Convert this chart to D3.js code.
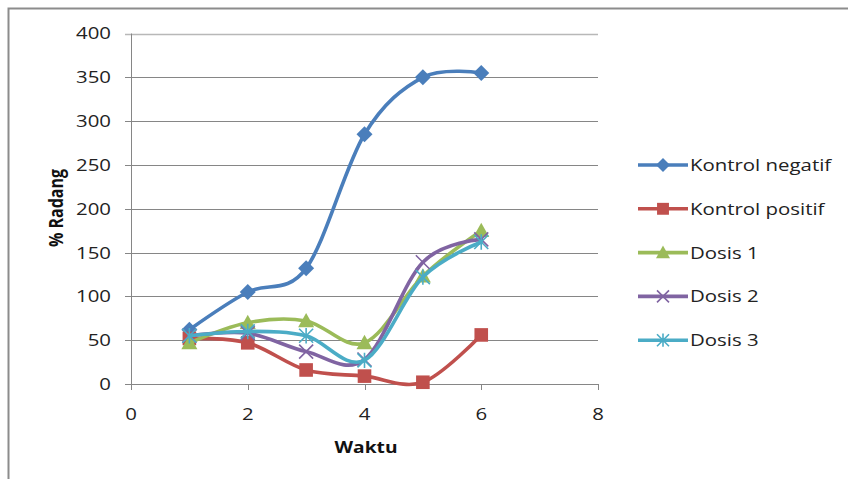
<!DOCTYPE html>
<html><head><meta charset="utf-8">
<script src="https://cdn.jsdelivr.net/npm/d3@7"></script>
<style>body{margin:0;background:#fff}svg{display:block}text{font-family:"Open Sans",sans-serif}</style>
</head><body><svg id="c" width="848" height="479"></svg>
<script>
const xs = [1, 2, 3, 4, 5, 6];
const seriesNames = ["Kontrol negatif", "Kontrol positif", "Dosis 1", "Dosis 2", "Dosis 3"];
const kontrolNegatif = [62, 105, 132, 285, 350, 355];
const kontrolPositif = [52, 47, 16, 9, 2, 56];
const dosis1 = [47, 70, 72, 47, 123, 175];
const dosis2 = [55, 58, 37, 28, 139, 165];
const dosis3 = [55, 60, 55, 27, 122, 162];
const xTicks = [0, 2, 4, 6, 8];
const yTicks = [0, 50, 100, 150, 200, 250, 300, 350, 400];
const colors = ["#4A7EBB", "#C0504D", "#9BBB59", "#8064A2", "#4BACC6"];
const markers = ["diamond", "square", "triangle", "x", "star"];
const allValues = [kontrolNegatif, kontrolPositif, dosis1, dosis2, dosis3];
const SX = 1.2; // horizontal stretch of the original picture

const svg = d3.select("#c");
svg.append("rect").attr("x", 8.5).attr("y", 8.5).attr("width", 900).attr("height", 600)
  .attr("fill", "none").attr("stroke", "#8c8c8c").attr("stroke-width", 2);

const x = d3.scaleLinear().domain([0, 8]).range([131, 598]);
const y = d3.scaleLinear().domain([0, 400]).range([384, 33.5]);

function label(g, tx, ty, txt, size, anchor, bold) {
  return g.append("text").attr("transform", `translate(${tx},${ty}) scale(${SX},1)`)
    .attr("dy", "0.35em").attr("text-anchor", anchor).attr("font-size", size)
    .attr("font-weight", bold ? "bold" : "normal").attr("fill", bold ? "#111" : "#222").text(txt);
}

// gridlines
svg.append("g").selectAll("line").data(yTicks).join("line")
  .attr("x1", x(0) - 6).attr("x2", x(8))
  .attr("y1", d => Math.round(y(d)) + 0.5).attr("y2", d => Math.round(y(d)) + 0.5)
  .attr("stroke", d => d === 400 ? "#b8b8b8" : "#868686").attr("stroke-width", d => d === 400 ? 1.5 : 1);

svg.append("line").attr("x1", x(0) + 0.5).attr("x2", x(0) + 0.5).attr("y1", y(400)).attr("y2", y(0))
  .attr("stroke", "#868686");
svg.append("g").selectAll("line").data(xTicks).join("line")
  .attr("x1", d => Math.round(x(d)) + 0.5).attr("x2", d => Math.round(x(d)) + 0.5)
  .attr("y1", y(0)).attr("y2", y(0) + 6).attr("stroke", "#868686");

const tg = svg.append("g");
yTicks.forEach(d => label(tg, 111, y(d), d, 17, "end", false));
xTicks.forEach(d => label(tg, x(d), 414, d, 17, "middle", false));

svg.append("text").attr("transform", "translate(56,208) rotate(-90) scale(1,1.2)").attr("text-anchor", "middle")
  .attr("dy", "0.35em").attr("font-size", 16).attr("font-weight", "bold").attr("fill", "#111").text("% Radang");
label(svg, 366, 447, "Waktu", 16, "middle", true);

const line = d3.line().x((d, i) => x(xs[i])).y(d => y(d)).curve(d3.curveCardinal.tension(0));

function marker(g, type, color, cx, cy, s) {
  if (type === "diamond") {
    g.append("path").attr("d", `M${cx},${cy - s}L${cx + s},${cy}L${cx},${cy + s}L${cx - s},${cy}Z`).attr("fill", color);
  } else if (type === "square") {
    g.append("rect").attr("x", cx - s * 0.85).attr("y", cy - s * 0.85).attr("width", s * 1.7).attr("height", s * 1.7).attr("fill", color);
  } else if (type === "triangle") {
    g.append("path").attr("d", `M${cx},${cy - s}L${cx + s},${cy + s * 0.8}L${cx - s},${cy + s * 0.8}Z`).attr("fill", color);
  } else if (type === "x") {
    g.append("path").attr("d", `M${cx - s},${cy - s}L${cx + s},${cy + s}M${cx - s},${cy + s}L${cx + s},${cy - s}`)
      .attr("stroke", color).attr("stroke-width", 1.6);
  } else {
    g.append("path").attr("d", `M${cx - s},${cy - s}L${cx + s},${cy + s}M${cx - s},${cy + s}L${cx + s},${cy - s}M${cx},${cy - s * 1.1}L${cx},${cy + s * 1.1}`)
      .attr("stroke", color).attr("stroke-width", 1.6);
  }
}

const plot = svg.append("g");
allValues.forEach((vals, k) => {
  const g = plot.append("g");
  g.append("path").attr("d", line(vals)).attr("fill", "none").attr("stroke", colors[k])
    .attr("stroke-width", 3.6).attr("stroke-linecap", "round");
  vals.forEach((v, i) => marker(g, markers[k], colors[k], x(xs[i]), y(v), k === 3 || k === 4 ? 7 : 8));
});

const lg = svg.append("g");
seriesNames.forEach((n, k) => {
  const ly = 165 + k * 43.8;
  lg.append("line").attr("x1", 638).attr("x2", 688).attr("y1", ly).attr("y2", ly)
    .attr("stroke", colors[k]).attr("stroke-width", 3.6);
  marker(lg, markers[k], colors[k], 663, ly, k === 3 || k === 4 ? 6 : 7);
  label(lg, 690, ly, n, 17, "start", false);
});
</script></body></html>
